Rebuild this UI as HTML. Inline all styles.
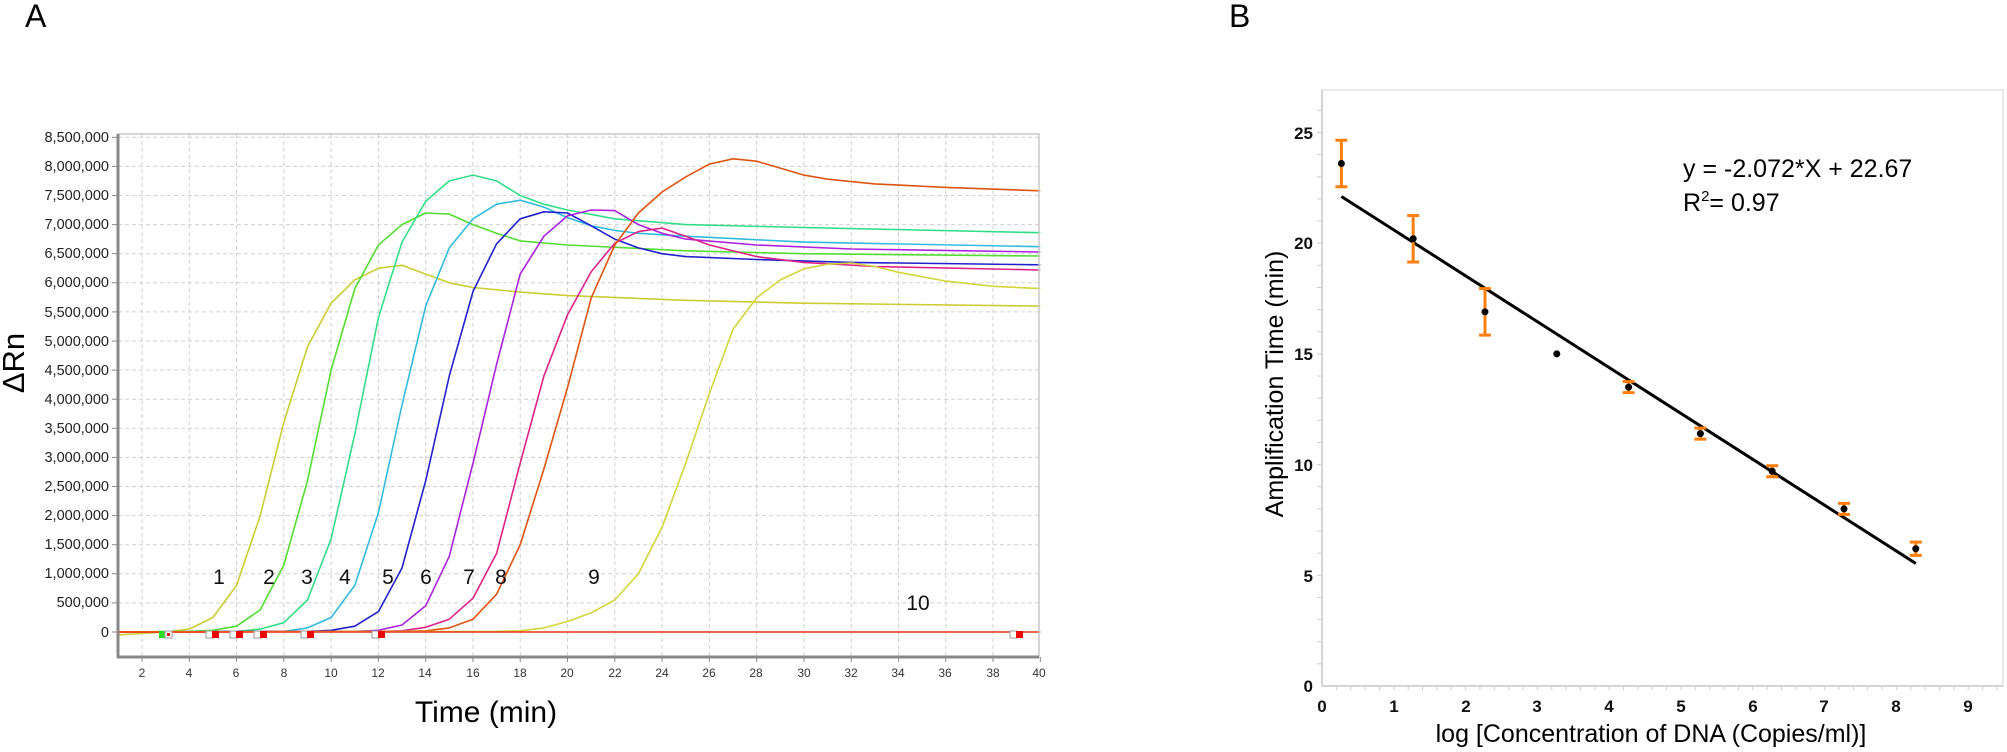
<!DOCTYPE html>
<html><head><meta charset="utf-8"><style>
html,body{margin:0;padding:0;background:#fff;}
svg{display:block;font-family:"Liberation Sans",Arial,sans-serif;}
</style></head><body>
<svg id="s" width="2007" height="752" viewBox="0 0 2007 752" xmlns="http://www.w3.org/2000/svg">
<rect width="2007" height="752" fill="#fff"/>
<text x="25" y="27" font-size="32">A</text>
<text x="1229" y="27" font-size="32">B</text>
<g id="gridA"></g>
<g id="curves" fill="none" stroke-width="1.6" stroke-linejoin="round"></g>
<g id="marks"></g>
<!-- axes A -->
<rect x="118" y="134" width="921" height="523" fill="none" stroke="#c8c8c8" stroke-width="1.5"/>
<line x1="118" y1="134" x2="118" y2="658" stroke="#888" stroke-width="3"/>
<line x1="117" y1="657" x2="1039" y2="657" stroke="#888" stroke-width="3"/>
<g font-size="14.5" fill="#222" text-anchor="end">
<text x="109" y="142">8,500,000</text><text x="109" y="171">8,000,000</text><text x="109" y="200">7,500,000</text><text x="109" y="229">7,000,000</text><text x="109" y="258">6,500,000</text><text x="109" y="287">6,000,000</text><text x="109" y="317">5,500,000</text><text x="109" y="346">5,000,000</text><text x="109" y="375">4,500,000</text><text x="109" y="404">4,000,000</text><text x="109" y="433">3,500,000</text><text x="109" y="462">3,000,000</text><text x="109" y="491">2,500,000</text><text x="109" y="520">2,000,000</text><text x="109" y="549">1,500,000</text><text x="109" y="578">1,000,000</text><text x="109" y="607">500,000</text><text x="109" y="637">0</text>
</g>
<g font-size="12" fill="#333" text-anchor="middle">
<text x="142" y="677">2</text><text x="189" y="677">4</text><text x="236" y="677">6</text><text x="284" y="677">8</text><text x="331" y="677">10</text><text x="378" y="677">12</text><text x="425" y="677">14</text><text x="473" y="677">16</text><text x="520" y="677">18</text><text x="567" y="677">20</text><text x="615" y="677">22</text><text x="662" y="677">24</text><text x="709" y="677">26</text><text x="756" y="677">28</text><text x="804" y="677">30</text><text x="851" y="677">32</text><text x="898" y="677">34</text><text x="945" y="677">36</text><text x="993" y="677">38</text><text x="1039" y="677">40</text>
</g>
<text x="0" y="0" font-size="31" transform="translate(24,363) rotate(-90)" text-anchor="middle">ΔRn</text>
<text x="486" y="722" font-size="30" text-anchor="middle">Time (min)</text>
<g font-size="21" fill="#111" text-anchor="middle">
<text x="219" y="584">1</text><text x="269" y="584">2</text><text x="307" y="584">3</text><text x="345" y="584">4</text><text x="388" y="584">5</text><text x="426" y="584">6</text><text x="469" y="584">7</text><text x="501" y="584">8</text><text x="594" y="584">9</text><text x="918" y="610">10</text>
</g>
<!-- chart B -->
<g id="B"></g>
<rect x="1322" y="90" width="681" height="596" fill="none" stroke="#e0e0e0" stroke-width="1.5"/>
<line x1="1322" y1="90" x2="1322" y2="686" stroke="#d4d4d4" stroke-width="2"/>
<line x1="1322" y1="686" x2="2003" y2="686" stroke="#d4d4d4" stroke-width="2"/>
<g font-size="17" font-weight="bold" fill="#111" text-anchor="end">
<text x="1313" y="692">0</text><text x="1313" y="582">5</text><text x="1313" y="471">10</text><text x="1313" y="360">15</text><text x="1313" y="249">20</text><text x="1313" y="139">25</text>
</g>
<g font-size="17" font-weight="bold" fill="#111" text-anchor="middle">
<text x="1322" y="712">0</text><text x="1394" y="712">1</text><text x="1466" y="712">2</text><text x="1537" y="712">3</text><text x="1609" y="712">4</text><text x="1681" y="712">5</text><text x="1753" y="712">6</text><text x="1824" y="712">7</text><text x="1896" y="712">8</text><text x="1968" y="712">9</text>
</g>
<text x="0" y="0" font-size="25" transform="translate(1283,384) rotate(-90)" text-anchor="middle">Amplification Time (min)</text>
<text x="1651" y="742" font-size="25" text-anchor="middle">log [Concentration of DNA (Copies/ml)]</text>
<text x="1683" y="177" font-size="25">y = -2.072*X + 22.67</text>
<text x="1683" y="211" font-size="25">R<tspan font-size="15" dy="-10">2</tspan><tspan dy="10">= 0.97</tspan></text>
</svg>
<script>
const NS="http://www.w3.org/2000/svg";
function el(p,t,a){const e=document.createElementNS(NS,t);for(const k in a)e.setAttribute(k,a[k]);document.getElementById(p).appendChild(e);return e;}
// chart A
const X=t=>142+(t-2)*23.64, Y=v=>632-v*58.2;
for(let t=2;t<=38;t+=2) el("gridA","line",{x1:X(t),y1:134,x2:X(t),y2:657,stroke:"#d0d0d0","stroke-dasharray":"4,3"});
for(let v=0;v<=8.5;v+=0.5){el("gridA","line",{x1:118,y1:Y(v),x2:1039,y2:Y(v),stroke:"#d0d0d0","stroke-dasharray":"4,3"});el("gridA","line",{x1:112,y1:Y(v),x2:118,y2:Y(v),stroke:"#888"});}
for(let t=2;t<=40;t+=2) el("gridA","line",{x1:X(t),y1:657,x2:X(t),y2:662,stroke:"#888"});
const C=[
["#cccc33",[[1,-0.05],[3,0],[4,0.05],[5,0.25],[6,0.8],[7,2.0],[8,3.6],[9,4.9],[10,5.65],[11,6.05],[12,6.25],[13,6.3],[14,6.15],[15,6.0],[16,5.92],[18,5.84],[20,5.78],[25,5.7],[30,5.65],[40,5.6]]],
["#55dd33",[[1,0],[4,0.01],[5,0.03],[6,0.1],[7,0.38],[8,1.15],[9,2.6],[10,4.5],[11,5.9],[12,6.65],[13,7.0],[14,7.2],[15,7.18],[16,7.0],[17,6.85],[18,6.72],[20,6.65],[25,6.55],[30,6.5],[40,6.46]]],
["#33dd88",[[1,0],[6,0.01],[7,0.05],[8,0.16],[9,0.55],[10,1.6],[11,3.4],[12,5.4],[13,6.7],[14,7.4],[15,7.75],[16,7.85],[17,7.75],[18,7.5],[19,7.35],[20,7.25],[22,7.1],[25,7.0],[30,6.95],[40,6.86]]],
["#33bbdd",[[1,0],[8,0.01],[9,0.07],[10,0.25],[11,0.8],[12,2.05],[13,3.9],[14,5.6],[15,6.6],[16,7.1],[17,7.35],[18,7.42],[19,7.3],[20,7.12],[21,6.98],[22,6.9],[23,6.85],[25,6.8],[30,6.7],[40,6.62]]],
["#2222cc",[[1,0],[9,0.01],[10,0.03],[11,0.1],[12,0.35],[13,1.1],[14,2.6],[15,4.4],[16,5.85],[17,6.67],[18,7.1],[19,7.22],[20,7.2],[21,6.98],[22,6.75],[23,6.6],[24,6.5],[25,6.45],[28,6.4],[32,6.35],[40,6.31]]],
["#aa22dd",[[1,0],[11,0.01],[12,0.03],[13,0.12],[14,0.45],[15,1.3],[16,2.9],[17,4.6],[18,6.15],[19,6.8],[20,7.15],[21,7.25],[22,7.24],[23,7.0],[24,6.85],[25,6.75],[28,6.65],[32,6.58],[40,6.53]]],
["#dd2288",[[1,0],[12,0.01],[13,0.02],[14,0.08],[15,0.22],[16,0.58],[17,1.35],[18,2.9],[19,4.4],[20,5.45],[21,6.19],[22,6.68],[23,6.88],[24,6.94],[25,6.8],[26,6.65],[28,6.45],[30,6.35],[33,6.28],[40,6.22]]],
["#dd5511",[[1,0],[13,0.01],[14,0.02],[15,0.07],[16,0.22],[17,0.65],[18,1.5],[19,2.8],[20,4.2],[21,5.74],[22,6.65],[23,7.2],[24,7.56],[25,7.82],[26,8.04],[27,8.13],[28,8.09],[29,7.97],[30,7.85],[31,7.78],[33,7.7],[36,7.64],[40,7.58]]],
["#d4d43c",[[1,0],[17,0.01],[18,0.02],[19,0.07],[20,0.18],[21,0.33],[22,0.55],[23,1.0],[24,1.8],[25,2.9],[26,4.1],[27,5.2],[28,5.74],[29,6.05],[30,6.24],[31,6.32],[32,6.34],[33,6.28],[34,6.18],[36,6.03],[38,5.94],[40,5.9]]],
["#ee3311",[[1,0],[40,0]]]
];
C.forEach(([c,p])=>el("curves","polyline",{stroke:c,points:p.map(q=>X(q[0]).toFixed(1)+","+Y(q[1]).toFixed(1)).join(" ")}));
el("marks","rect",{x:159,y:631,width:7,height:7,fill:"#22dd22"});
el("marks","rect",{x:165,y:631,width:7,height:7,fill:"#fff",stroke:"#999"});
el("marks","rect",{x:167,y:633,width:3,height:3,fill:"#e00"});
[[209,215],[233,239],[257,263],[304,310],[375,381],[1013,1019]].forEach(([g,r])=>{
el("marks","rect",{x:g-3,y:631,width:7,height:7,fill:"#fff",stroke:"#999"});
el("marks","rect",{x:r-3,y:631,width:7,height:7,fill:"#ee0000"});});
// chart B
const BX=x=>1322+x*71.8, BY=y=>686-y*22.14;
for(let y=1;y<=26;y++) el("B","line",{x1:1317,y1:BY(y),x2:1322,y2:BY(y),stroke:"#ccc"});
for(let x=0.2;x<=9.4;x+=0.2) el("B","line",{x1:BX(x),y1:686,x2:BX(x),y2:690,stroke:"#ccc"});
el("B","line",{x1:BX(0.27),y1:BY(22.67-2.072*0.27),x2:BX(8.27),y2:BY(22.67-2.072*8.27),stroke:"#000","stroke-width":3});
const P=[[0.27,23.6,1.05],[1.27,20.2,1.05],[2.27,16.9,1.05],[3.27,15.0,0],[4.27,13.5,0.25],[5.27,11.4,0.25],[6.27,9.7,0.25],[7.27,8.0,0.25],[8.27,6.2,0.3]];
P.forEach(([x,y,e])=>{const cx=BX(x);
if(e){el("B","line",{x1:cx,y1:BY(y+e),x2:cx,y2:BY(y-e),stroke:"#ff7f0e","stroke-width":3});
[y+e,y-e].forEach(v=>el("B","line",{x1:cx-6,y1:BY(v),x2:cx+6,y2:BY(v),stroke:"#ff7f0e","stroke-width":3}));}
el("B","circle",{cx:cx,cy:BY(y),r:3.5,fill:"#000"});});
</script>
</body></html>
